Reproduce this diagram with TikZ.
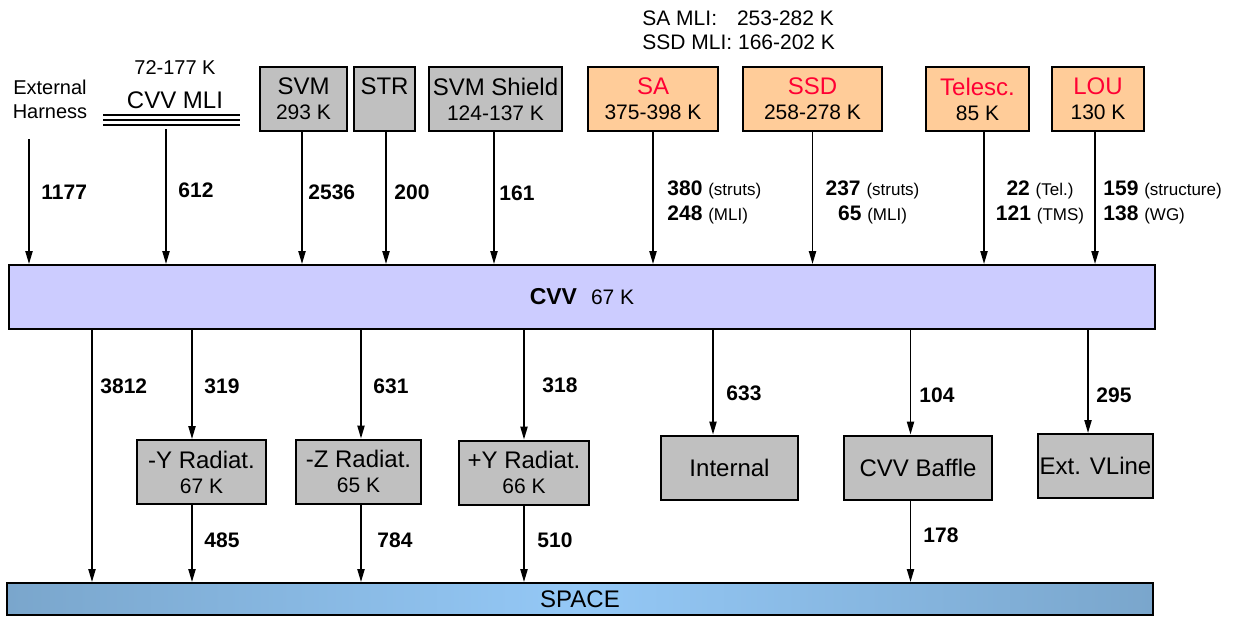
\documentclass[tikz,border=0pt]{standalone}
\usepackage{fontspec}
\setmainfont{Liberation Sans}
\usetikzlibrary{arrows.meta,positioning}

\definecolor{unitgray}{RGB}{192,192,192}
\definecolor{unitorange}{RGB}{255,204,153}
\definecolor{cvvblue}{RGB}{204,204,255}
\definecolor{spaceedge}{RGB}{122,166,204}
\definecolor{spacemid}{RGB}{148,200,246}
\definecolor{unitred}{RGB}{255,0,51}

\newcommand{\tempK}[1]{{\fontsize{10.5}{12.5}\selectfont #1}}
\newcommand{\via}[1]{{\fontsize{8.5}{12.5}\selectfont #1}}

\begin{document}
\begin{tikzpicture}[
    x=0.5pt, y=-0.5pt,
    unit/.style={draw, line width=1pt, align=center, inner sep=0pt, minimum height=32pt, font=\fontsize{12}{12.5}\selectfont},
    cold/.style={unit, fill=unitgray},
    warm/.style={unit, fill=unitorange},
    note/.style={inner sep=0pt, font=\fontsize{10}{12}\selectfont},
    flux/.style={inner sep=0pt, anchor=base west, font=\bfseries\fontsize{10.5}{12.5}\selectfont},
    fluxpair/.style={inner sep=0pt, font=\fontsize{10.5}{12.5}\selectfont},
    link/.style={-{Triangle[length=6.5pt,width=3.6pt]}, line width=0.8pt}
]
\useasboundingbox (0,0) rectangle (1240,616);

\node[cold, minimum width=43.5pt] (svm) at (303.5,99) {SVM\\\tempK{293 K}};
\node[cold, minimum width=30.5pt] (str) at (384.5,99) {STR\\\tempK{\phantom{0}}};
\node[cold, minimum width=66.5pt] (shield) at (495.5,99) {SVM Shield\\\tempK{124-137 K}};
\node[warm, minimum width=65pt] (sa) at (653,99) {\textcolor{unitred}{SA}\\\tempK{375-398 K}};
\node[warm, minimum width=69.5pt] (ssd) at (812.5,99) {\textcolor{unitred}{SSD}\\\tempK{258-278 K}};
\node[warm, minimum width=51.5pt] (tel) at (977.5,99) {\textcolor{unitred}{Telesc.}\\\tempK{85 K}};
\node[warm, minimum width=46pt] (lou) at (1098,99) {\textcolor{unitred}{LOU}\\\tempK{130 K}};

\node[note, align=center, anchor=north] (harness) at (50,80) {External\\Harness};
\node[inner sep=0pt, anchor=base, font=\fontsize{12}{14}\selectfont] (mli) at (175,108) {CVV MLI};
\node[note, above=8pt of mli] (mlitemp) {72-177 K};
\draw[line width=0.9pt] (103,115) -- (240,115);
\draw[line width=0.9pt] (103,120) -- (240,120);
\draw[line width=0.9pt] (103,125) -- (240,125);
\node[fluxpair, font=\fontsize{10.5}{12}\selectfont, align=left, anchor=north west] (mlirange) at (642,10) {SA MLI:\hspace{0.95em}253-282 K\\SSD MLI: 166-202 K};

\node[unit, fill=cvvblue, minimum width=573pt] (cvv) at (582,297) {{\bfseries\fontsize{11.5}{13}\selectfont CVV}\hspace{7pt}\tempK{67 K}};

\node[cold, minimum width=64.5pt] (ymin) at (201.5,472) {-Y Radiat.\\\tempK{67 K}};
\node[cold, minimum width=62.5pt] (zmin) at (358.5,471.5) {-Z Radiat.\\\tempK{65 K}};
\node[cold, minimum width=65pt] (ypl) at (524,472.5) {+Y Radiat.\\\tempK{66 K}};
\node[cold, minimum width=68.5pt] (internal) at (729.5,467.5) {Internal};
\node[cold, minimum width=74pt] (baffle) at (918,467.5) {CVV Baffle};
\node[cold, minimum width=57.5pt] (vline) at (1095.5,466) {Ext. VLine};

\node[unit, left color=spaceedge, right color=spaceedge, middle color=spacemid, minimum width=573pt, minimum height=16pt] (space) at (580,599) {SPACE};

\coordinate (harnessfoot) at (29,139);
\coordinate (mlifoot) at (166,129);
\coordinate (direct) at (92,329);

\draw[link] (harnessfoot) -- (harnessfoot |- cvv.north);
\draw[link] (mlifoot) -- (mlifoot |- cvv.north);
\draw[link] ([xshift=-0.75pt]svm.south) -- ([xshift=-0.75pt]svm.south |- cvv.north);
\draw[link] ([xshift=0.75pt]str.south) -- ([xshift=0.75pt]str.south |- cvv.north);
\draw[link] ([xshift=-0.75pt]shield.south) -- ([xshift=-0.75pt]shield.south |- cvv.north);
\draw[link] (sa.south) -- (sa.south |- cvv.north);
\draw[link] (ssd.south) -- (ssd.south |- cvv.north);
\draw[link] ([xshift=3.25pt]tel.south) -- ([xshift=3.25pt]tel.south |- cvv.north);
\draw[link] ([xshift=-1.5pt]lou.south) -- ([xshift=-1.5pt]lou.south |- cvv.north);

\draw[link] (direct) -- (direct |- space.north);
\draw[link] ([xshift=-4.75pt]ymin.north |- cvv.south) -- ([xshift=-4.75pt]ymin.north);
\draw[link] ([xshift=1.25pt]zmin.north |- cvv.south) -- ([xshift=1.25pt]zmin.north);
\draw[link] (ypl.north |- cvv.south) -- (ypl.north);
\draw[link] ([xshift=-8.25pt]internal.north |- cvv.south) -- ([xshift=-8.25pt]internal.north);
\draw[link] ([xshift=-3.75pt]baffle.north |- cvv.south) -- ([xshift=-3.75pt]baffle.north);
\draw[link] ([xshift=-3.75pt]vline.north |- cvv.south) -- ([xshift=-3.75pt]vline.north);
\draw[link] ([xshift=-4.75pt]ymin.south) -- ([xshift=-4.75pt]ymin.south |- space.north);
\draw[link] ([xshift=1.25pt]zmin.south) -- ([xshift=1.25pt]zmin.south |- space.north);
\draw[link] (ypl.south) -- (ypl.south |- space.north);
\draw[link] ([xshift=-3.75pt]baffle.south) -- ([xshift=-3.75pt]baffle.south |- space.north);

\node[flux] (q1177) at (41,199) {1177};
\node[flux] (q612) at (178,197) {612};
\node[flux] (q2536) at (308,199) {2536};
\node[flux] (q200) at (394,199) {200};
\node[flux] (q161) at (499,200) {161};
\node[fluxpair, align=left, anchor=north west] (qsa) at (667,180) {\textbf{380} \via{(struts)}\\\textbf{248} \via{(MLI)}};
\node[fluxpair, align=center, anchor=north] (qssd) at (872.5,180) {\textbf{237} \via{(struts)}\\\textbf{65} \via{(MLI)}};
\node[fluxpair, align=center, anchor=north] (qtel) at (1040,180) {\textbf{22} \via{(Tel.)}\\\textbf{121} \via{(TMS)}};
\node[fluxpair, align=left, anchor=north west] (qlou) at (1103,180) {\textbf{159} \via{(structure)}\\\textbf{138} \via{(WG)}};

\node[flux] (q3812) at (100,393) {3812};
\node[flux] (q319) at (204,393) {319};
\node[flux] (q631) at (373,393) {631};
\node[flux] (q318) at (542,392) {318};
\node[flux] (q633) at (726,400) {633};
\node[flux] (q104) at (919,402) {104};
\node[flux] (q295) at (1096,402) {295};
\node[flux] (q485) at (204,547) {485};
\node[flux] (q784) at (377,547) {784};
\node[flux] (q510) at (537,547) {510};
\node[flux] (q178) at (923,542) {178};
\end{tikzpicture}
\end{document}
